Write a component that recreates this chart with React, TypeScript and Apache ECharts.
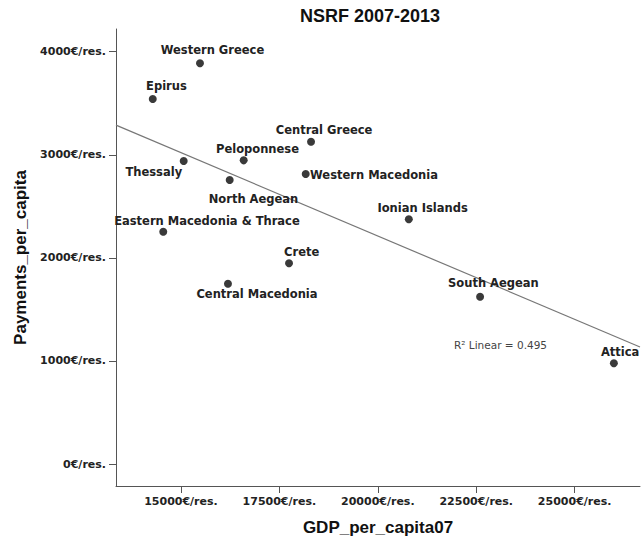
import React, { useEffect, useRef } from "react";
import * as echarts from "echarts";

const chartTitle = "NSRF 2007-2013";
const xAxisName = "GDP_per_capita07";
const yAxisName = "Payments_per_capita";

const regions = [
  "Western Greece",
  "Epirus",
  "Central Greece",
  "Thessaly",
  "Peloponnese",
  "Western Macedonia",
  "North Aegean",
  "Ionian Islands",
  "Eastern Macedonia & Thrace",
  "Crete",
  "Central Macedonia",
  "South Aegean",
  "Attica",
];
const gdpPerCapita = [15483, 14283, 18304, 15069, 16593, 18169, 16238, 20787, 14550, 17745, 16194, 22598, 25996];
const paymentsPerCapita = [3887, 3541, 3127, 2939, 2946, 2813, 2755, 2374, 2254, 1947, 1749, 1623, 977];

const xTicks = [15000, 17500, 20000, 22500, 25000];
const yTicks = [0, 1000, 2000, 3000, 4000];

// fit line end points
const fitLineX = [13350, 26660];
const fitLineY = [3288, 1135];
const rSquaredText = "R² Linear = 0.495";

// label placement relative to each point (layout, px)
const labelOffsets: [number, number][] = [
  [12.5, -13.3],
  [13.7, -12.7],
  [13, -11.7],
  [-29.9, 10.7],
  [13.8, -11.6],
  [68.3, 1.3],
  [23.8, 18.7],
  [13.8, -11.6],
  [43.7, -10.7],
  [12.7, -11.6],
  [29, 10.3],
  [13.3, -13.4],
  [6.3, -11.6],
];

export default function App() {
  const ref = useRef<HTMLDivElement>(null);
  useEffect(() => {
    if (!ref.current) return;
    const chart = echarts.init(ref.current, undefined, { renderer: "svg" });
    const tickFont = {
      fontFamily: "DejaVu Sans",
      fontWeight: "bold" as const,
      fontSize: 11,
      color: "#222",
    };
    const nameFont = {
      fontFamily: "Liberation Sans",
      fontWeight: "bold" as const,
      fontSize: 17,
      color: "#111",
    };
    chart.setOption({
      animation: false,
      backgroundColor: "#fff",
      grid: {
        left: 116,
        right: 4,
        top: 29,
        bottom: 52,
        containLabel: false,
        outerBoundsMode: "none",
      },
      xAxis: {
        type: "value",
        min: 13350,
        max: 26660,
        name: xAxisName,
        nameLocation: "middle",
        nameGap: 33,
        nameTextStyle: nameFont,
        axisLine: { show: true, onZero: false, lineStyle: { color: "#555", width: 1 } },
        axisTick: { show: true, length: 7, customValues: xTicks, lineStyle: { color: "#555" } },
        axisLabel: {
          customValues: xTicks,
          margin: 10,
          formatter: (v: number) => `${v}€/res.`,
          ...tickFont,
        },
        splitLine: { show: false },
      },
      yAxis: {
        type: "value",
        min: -213,
        max: 4220,
        name: yAxisName,
        nameLocation: "middle",
        nameGap: 82,
        nameTextStyle: nameFont,
        axisLine: { show: true, onZero: false, lineStyle: { color: "#555", width: 1 } },
        axisTick: { show: true, length: 7, customValues: yTicks, lineStyle: { color: "#555" } },
        axisLabel: {
          customValues: yTicks,
          margin: 10,
          formatter: (v: number) => `${v}€/res.`,
          ...tickFont,
        },
        splitLine: { show: false },
      },
      graphic: [
        {
          type: "text",
          x: 370,
          y: 16,
          style: {
            text: chartTitle,
            textAlign: "center",
            textVerticalAlign: "middle",
            fontFamily: "Liberation Sans",
            fontWeight: "bold",
            fontSize: 18,
            fill: "#111",
          },
        },
        {
          type: "text",
          x: 454,
          y: 345,
          style: {
            text: rSquaredText,
            textAlign: "left",
            textVerticalAlign: "middle",
            fontFamily: "DejaVu Sans",
            fontSize: 10.5,
            fill: "#444",
          },
        },
      ],
      series: [
        {
          type: "line",
          data: fitLineX.map((x, i) => [x, fitLineY[i]]),
          symbol: "none",
          lineStyle: { color: "#777", width: 1.2 },
          z: 1,
          silent: true,
        },
        {
          type: "scatter",
          symbolSize: 8,
          itemStyle: { color: "#3a3a3a", opacity: 1 },
          z: 2,
          data: regions.map((name, i) => ({
            name,
            value: [gdpPerCapita[i], paymentsPerCapita[i]],
            label: { offset: labelOffsets[i] },
          })),
          label: {
            show: true,
            position: "inside",
            formatter: (p: any) => p.name,
            fontFamily: "DejaVu Sans",
            fontWeight: "bold",
            fontSize: 11.5,
            color: "#222",
          },
        },
      ],
    });
    return () => chart.dispose();
  }, []);
  return (
    <div
      ref={ref}
      style={{ position: "fixed", left: 0, top: 0, width: 644, height: 538, background: "#fff" }}
    />
  );
}
